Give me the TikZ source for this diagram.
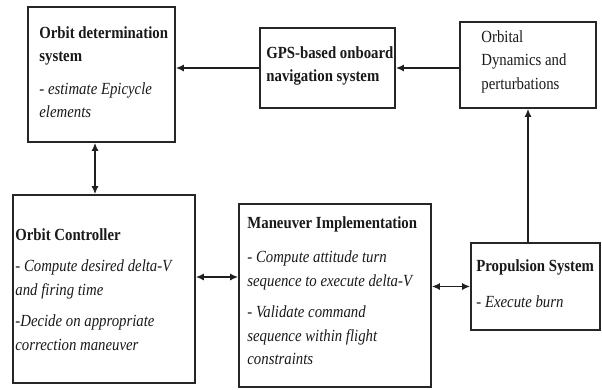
\documentclass[tikz,border=0pt]{standalone}
\usepackage{fontspec}
\setmainfont{Liberation Serif}[FakeStretch=0.87]
\usetikzlibrary{arrows.meta}

\begin{document}
\begin{tikzpicture}[x=1pt,y=-1pt,
    box node/.style={rectangle,draw=black!85,line width=1.6pt,inner sep=0pt},
    text node/.style={anchor=north west,align=left,inner sep=0pt,text=black!90,
      font=\fontsize{17}{23.5}\selectfont},
    link/.style={-{Latex[length=8pt,width=7pt]},line width=1.6pt,draw=black!88},
    two way/.style={{Latex[length=8pt,width=7pt]}-{Latex[length=8pt,width=7pt]},
      line width=1.6pt,draw=black!88}]

  \useasboundingbox (0,0) rectangle (602,389);

  %% boxes
  \node (OrbitDet) [box node,minimum width=147,minimum height=135] at (101.5,74.5) {};
  \node (GPSNav) [box node,minimum width=135,minimum height=80] at (327.5,68) {};
  \node (Dynamics) [box node,minimum width=136,minimum height=86] at (528,65) {};
  \node (Controller) [box node,minimum width=182,minimum height=188] at (104,289) {};
  \node (Maneuver) [box node,minimum width=192,minimum height=183] at (335,295.5) {};
  \node (Propulsion) [box node,minimum width=129,minimum height=87] at (535.5,286.5) {};

  %% texts
  \node (OrbitDetText) [text node] at ([shift={(12,20)}]OrbitDet.north west)
    {\textbf{Orbit determination}\\ \textbf{system}\\[9pt]
     \textit{- estimate Epicycle}\\ \textit{elements}};
  \node (GPSNavText) [text node] at ([shift={(7,19)}]GPSNav.north west)
    {\textbf{GPS-based onboard}\\ \textbf{navigation system}};
  \node (DynamicsText) [text node] at ([shift={(22,9)}]Dynamics.north west)
    {Orbital\\ Dynamics and\\ perturbations};
  \node (ControllerText) [text node] at ([shift={(3,34)}]Controller.north west)
    {\textbf{Orbit Controller}\\[8pt]
     \textit{- Compute desired delta-V}\\ \textit{and firing time}\\[8pt]
     \textit{-Decide on appropriate}\\ \textit{correction maneuver}};
  \node (ManeuverText) [text node] at ([shift={(9,13)}]Maneuver.north west)
    {\textbf{Maneuver Implementation}\\[11pt]
     \textit{- Compute attitude turn}\\ \textit{sequence to execute delta-V}\\[8pt]
     \textit{- Validate command}\\ \textit{sequence within flight}\\ \textit{constraints}};
  \node (PropulsionText) [text node] at ([shift={(6,17)}]Propulsion.north west)
    {\textbf{Propulsion System}\\[13pt]
     \textit{- Execute burn}};

  %% connectors
  \draw[link] (GPSNav.west) -- (GPSNav.west -| OrbitDet.east);
  \draw[link] (Dynamics.west |- GPSNav.east) -- (GPSNav.east);
  \draw[link] (Propulsion.north -| Dynamics.south) -- (Dynamics.south);
  \draw[two way] ([xshift=-6.5pt]OrbitDet.south) -- ([xshift=-6.5pt]OrbitDet.south |- Controller.north);
  \draw[two way] ([yshift=12pt]Controller.east) -- ([yshift=12pt]Controller.east -| Maneuver.west);
  \draw[two way] (Maneuver.east |- Propulsion.west) -- (Propulsion.west);

\end{tikzpicture}
\end{document}
